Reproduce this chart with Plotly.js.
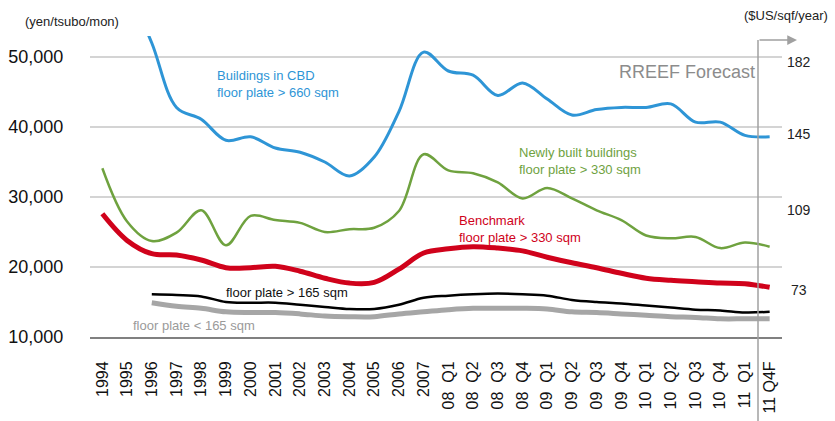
<!DOCTYPE html>
<html>
<head>
<meta charset="utf-8">
<script src="https://cdn.plot.ly/plotly-3.0.1.min.js"></script>
<style>html,body{margin:0;padding:0;background:#fff;}#chart{width:835px;height:421px;}</style>
</head>
<body>
<div id="chart"></div>
<script>
// Categories (x axis)
const categories = ['1994','1995','1996','1997','1998','1999','2000','2001','2002','2003','2004','2005','2006','2007',
  '08  Q1','08  Q2','08  Q3','08  Q4','09  Q1','09  Q2','09  Q3','09  Q4','10  Q1','10  Q2','10  Q3','10  Q4','11  Q1','11 Q4F'];

// Rent series (yen/tsubo/month)
const cbd660 = [null, 60000, 52000, 42800, 41100, 38100, 38600, 37000, 36400, 35000, 33000, 35700, 42200, 50700,
  48000, 47400, 44500, 46300, 44000, 41700, 42500, 42800, 42800, 43300, 40700, 40700, 38800, 38600];
const newBuilt330 = [34100, 26500, 23700, 24900, 28100, 23100, 27300, 26700, 26300, 25000, 25400, 25600, 28000, 36100,
  33800, 33400, 32100, 29800, 31300, 29800, 28100, 26700, 24500, 24100, 24300, 22700, 23500, 22900];
const benchmark330 = [27600, 23800, 21900, 21700, 21000, 19900, 19900, 20100, 19400, 18400, 17700, 17800, 19700, 22000,
  22600, 22900, 22700, 22300, 21400, 20600, 19900, 19100, 18400, 18100, 17900, 17700, 17600, 17100];
const over165 = [null, null, 16100, 16000, 15800, 15000, 14900, 14900, 14600, 14300, 14000, 14000, 14600, 15600,
  15900, 16100, 16200, 16100, 15900, 15300, 15000, 14800, 14500, 14200, 13900, 13800, 13500, 13600];
const under165 = [null, null, 14900, 14400, 14100, 13600, 13500, 13500, 13300, 13000, 12900, 12900, 13300, 13600,
  13900, 14100, 14100, 14100, 14000, 13600, 13500, 13300, 13100, 12900, 12800, 12600, 12600, 12600];

// Y tick values / labels
const yTicks = [10000, 20000, 30000, 40000, 50000];
const yTickText = ['10,000', '20,000', '30,000', '40,000', '50,000'];
// Right-hand US$ labels
const usdLabels = ['182', '145', '109', '73'];

const FONT = 'Liberation Sans, Arial, sans-serif';

function line(y, color, width) {
  return {
    x: categories, y: y, type: 'scatter', mode: 'lines',
    line: {color: color, width: width, shape: 'spline', smoothing: 1},
    hoverinfo: 'skip', showlegend: false
  };
}

const traces = [
  line(cbd660, '#2E95D6', 3),
  line(newBuilt330, '#6FA23F', 2.5),
  line(benchmark330, '#D0021B', 5),
  line(over165, '#000000', 2.5),
  line(under165, '#A6A6A6', 5)
];

// pixel helpers for paper coordinates
const L = 90, R = 782, T = 36, B = 337;
const px = v => (v - L) / (R - L);
const py = v => (B - v) / (B - T);

const usdY = [62, 134, 210, 290];

const annotations = [
  {text: '(yen/tsubo/mon)', x: px(23), y: py(22), xanchor: 'left', yanchor: 'middle', font: {size: 13, color: '#222'}},
  {text: '($US/sqf/year)', x: px(742), y: py(15), xanchor: 'left', yanchor: 'middle', font: {size: 13, color: '#222'}},
  {text: 'Buildings in CBD<br>floor plate > 660 sqm', x: px(215), y: py(83.5), xanchor: 'left', yanchor: 'middle', align: 'left', font: {size: 13, color: '#2E95D6'}},
  {text: 'RREEF Forecast', x: px(617), y: py(72), xanchor: 'left', yanchor: 'middle', font: {size: 18, color: '#8C8C8C'}},
  {text: 'Newly built buildings<br>floor plate > 330 sqm', x: px(517), y: py(160.5), xanchor: 'left', yanchor: 'middle', align: 'left', font: {size: 13, color: '#6FA23F'}},
  {text: 'Benchmark<br>floor plate > 330 sqm', x: px(457), y: py(229), xanchor: 'left', yanchor: 'middle', align: 'left', font: {size: 13, color: '#D0021B'}},
  {text: 'floor plate > 165 sqm', x: px(224), y: py(292), xanchor: 'left', yanchor: 'middle', font: {size: 13, color: '#111'}},
  {text: 'floor plate < 165 sqm', x: px(131), y: py(325), xanchor: 'left', yanchor: 'middle', font: {size: 13, color: '#9A9A9A'}},
  // forecast arrow
  {x: px(797), y: py(40), ax: -39, ay: 0, text: '', showarrow: true, arrowhead: 2, arrowsize: 1.3, arrowwidth: 1.5, arrowcolor: '#A0A0A0'}
];
usdLabels.forEach((t, i) => {
  annotations.push({text: t, x: px(799), y: py(usdY[i]), xanchor: 'center', yanchor: 'middle', font: {size: 14, color: '#222'}});
});
annotations.forEach(a => { a.xref = 'paper'; a.yref = 'paper'; if (a.showarrow === undefined) a.showarrow = false; });

const layout = {
  width: 835, height: 421,
  margin: {l: L, r: 835 - R, t: T, b: 421 - B},
  paper_bgcolor: '#ffffff', plot_bgcolor: '#ffffff',
  font: {family: FONT, color: '#111'},
  showlegend: false,
  xaxis: {
    type: 'category', categoryorder: 'array', categoryarray: categories,
    range: [-0.5, categories.length - 0.5],
    showgrid: false, zeroline: false,
    showline: true, linecolor: '#808080', linewidth: 2,
    ticks: 'outside', ticklen: 16, tickcolor: 'rgba(0,0,0,0)',
    tickangle: -90, tickfont: {size: 16, color: '#111', family: FONT},
    fixedrange: true
  },
  yaxis: {
    range: [10000, 53000],
    tickvals: yTicks, ticktext: yTickText,
    showgrid: true, gridcolor: '#D4D4D4', gridwidth: 1.5,
    zeroline: false, showline: false,
    ticks: 'outside', ticklen: 22, tickcolor: 'rgba(0,0,0,0)',
    tickfont: {size: 18, color: '#111', family: FONT},
    fixedrange: true
  },
  shapes: [
    {type: 'line', xref: 'paper', yref: 'paper', x0: px(758), x1: px(758), y0: py(40), y1: py(421),
     line: {color: '#A0A0A0', width: 1.5}}
  ],
  annotations: annotations
};

Plotly.newPlot('chart', traces, layout, {staticPlot: true, displayModeBar: false});
</script>
</body>
</html>
